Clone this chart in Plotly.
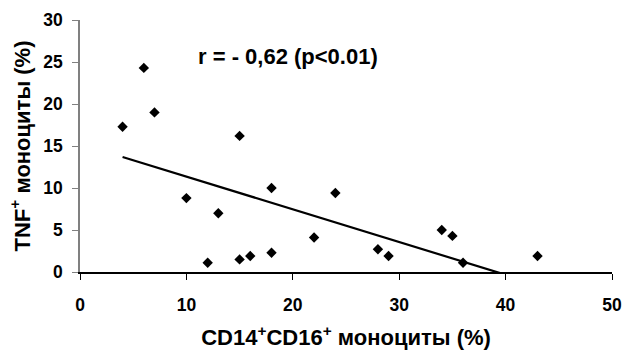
import numpy as np
import plotly.graph_objects as go

cd14_cd16 = [4, 6, 7, 10, 12, 13, 15, 15, 16, 18, 18, 22, 24, 28, 29, 34, 35, 36, 43]
tnf = [17.3, 24.3, 19.0, 8.8, 1.1, 7.0, 16.2, 1.5, 1.9, 10.0, 2.3, 4.1, 9.4, 2.7, 1.9, 5.0, 4.3, 1.1, 1.9]
x_ticks = [0, 10, 20, 30, 40, 50]
y_ticks = [0, 5, 10, 15, 20, 25, 30]

slope, intercept = np.polyfit(cd14_cd16, tnf, 1)
tx = np.array([min(cd14_cd16), max(cd14_cd16)])
ty = slope * tx + intercept

FAM = "Liberation Sans, Arial, sans-serif"
tickfont = dict(size=17.5, family=FAM, color="black", weight=700)

fig = go.Figure()
fig.add_trace(go.Scatter(x=tx, y=ty, mode="lines", line=dict(color="black", width=2.2),
                         hoverinfo="skip", showlegend=False))
fig.add_trace(go.Scatter(x=cd14_cd16, y=tnf, mode="markers",
                         marker=dict(symbol="diamond", color="black", size=8),
                         showlegend=False))

fig.update_layout(
    width=624, height=353,
    margin=dict(l=80, r=12, t=20, b=81, autoexpand=False),
    plot_bgcolor="white", paper_bgcolor="white",
    font=dict(family=FAM, color="black"),
    xaxis=dict(range=[0, 50], tickvals=x_ticks, ticktext=[f"<b>{v}</b>" for v in x_ticks],
               showgrid=False, zeroline=False, automargin=False,
               showline=True, linecolor="black", linewidth=1.5,
               ticks="outside", ticklen=6, tickcolor="black",
               tickfont=tickfont, ticklabelstandoff=10,
               title=dict(text="<b>CD14<sup>+</sup>CD16<sup>+</sup> моноциты (%)</b>",
                          font=dict(size=22, family=FAM, weight=700), standoff=16)),
    yaxis=dict(range=[0, 30], tickvals=y_ticks, ticktext=[f"<b>{v}</b>" for v in y_ticks],
               showgrid=False, zeroline=False, automargin=False,
               showline=True, linecolor="#808080", linewidth=1.5,
               ticks="outside", ticklen=6, tickcolor="#808080",
               tickfont=tickfont, ticklabelstandoff=6,
               title=dict(text="<b>TNF<sup>+</sup> моноциты (%)</b>",
                          font=dict(size=22, family=FAM, weight=700), standoff=7)),
    annotations=[dict(text="<b>r = - 0,62 (p<0.01)</b>", x=0.391, y=0.913,
                      xref="paper", yref="paper", showarrow=False,
                      font=dict(size=22, family=FAM, color="black", weight=700))],
)

fig.write_html("out.html", config={"displayModeBar": False},
               post_script="document.body.style.margin='0';document.body.style.overflow='hidden';")
